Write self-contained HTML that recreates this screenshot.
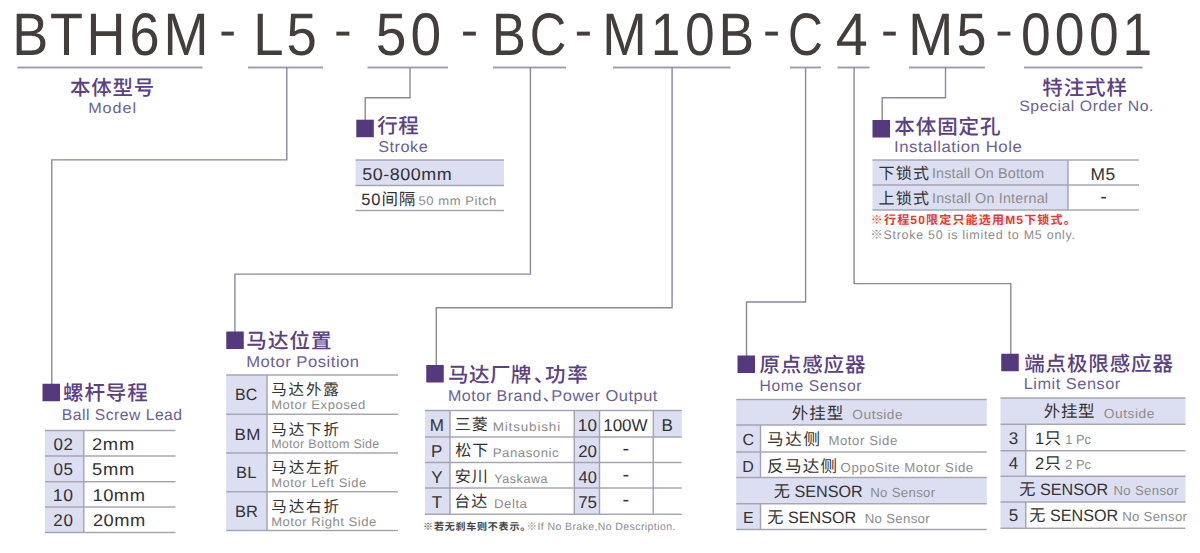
<!DOCTYPE html>
<html lang="zh-CN">
<head>
<meta charset="utf-8">
<title>BTH6M Model Code</title>
<style>
html,body{margin:0;padding:0;background:#fff;}
body{width:1200px;height:553px;overflow:hidden;}
svg{display:block;}
svg text{font-family:"Liberation Sans", "Noto Sans CJK SC", sans-serif;white-space:pre;}
</style>
</head>
<body>
<svg width="1200" height="553" viewBox="0 0 1200 553">
<rect width="1200" height="553" fill="#ffffff"/>
<g shape-rendering="geometricPrecision">
<rect x="17.5" y="66.55" width="185" height="1.9" fill="#9f9ab6"/>
<rect x="248" y="66.55" width="75" height="1.9" fill="#9f9ab6"/>
<rect x="367.5" y="66.55" width="80.5" height="1.9" fill="#9f9ab6"/>
<rect x="493" y="66.55" width="73" height="1.9" fill="#9f9ab6"/>
<rect x="613" y="66.55" width="117.5" height="1.9" fill="#9f9ab6"/>
<rect x="790" y="66.55" width="31" height="1.9" fill="#9f9ab6"/>
<rect x="837.5" y="66.55" width="32" height="1.9" fill="#9f9ab6"/>
<rect x="909" y="66.55" width="76" height="1.9" fill="#9f9ab6"/>
<rect x="1024" y="66.55" width="118.5" height="1.9" fill="#9f9ab6"/>
<path d="M286.8,67.5V159.9H51.8V384" fill="none" stroke="#8a879e" stroke-width="1.4"/>
<path d="M410,67.5V97.7H365.2V120" fill="none" stroke="#8a879e" stroke-width="1.4"/>
<path d="M530.4,67.5V274.1H234.9V332" fill="none" stroke="#8a879e" stroke-width="1.4"/>
<path d="M672.1,67.5V307.7H436.3V365" fill="none" stroke="#8a879e" stroke-width="1.4"/>
<path d="M805.6,67.5V302H746.5V356" fill="none" stroke="#8a879e" stroke-width="1.4"/>
<path d="M854.1,67.5V283.6H1010.8V354" fill="none" stroke="#8a879e" stroke-width="1.4"/>
<path d="M945.5,67.5V97.7H882.2V120" fill="none" stroke="#8a879e" stroke-width="1.4"/>
<rect x="356.3" y="119.7" width="17.5" height="17.5" fill="#54397c"/>
<rect x="872.5" y="120" width="17.5" height="17.5" fill="#54397c"/>
<rect x="42.5" y="383.75" width="17.5" height="17.5" fill="#54397c"/>
<rect x="226.25" y="331.5" width="17.5" height="17.5" fill="#54397c"/>
<rect x="426.25" y="365" width="17.5" height="17.5" fill="#54397c"/>
<rect x="737.5" y="355.5" width="17.5" height="17.5" fill="#54397c"/>
<rect x="1001.25" y="353.75" width="17.5" height="17.5" fill="#54397c"/>
<rect x="355.5" y="160" width="148.5" height="25.5" fill="#dcdef1"/>
<rect x="355.5" y="159.3" width="148.5" height="1.4" fill="#a2a2b1"/>
<rect x="355.5" y="184.8" width="148.5" height="1.4" fill="#a2a2b1"/>
<rect x="355.5" y="209.8" width="148.5" height="1.4" fill="#a2a2b1"/>
<rect x="872.5" y="160" width="195.5" height="50" fill="#dcdef1"/>
<rect x="872.5" y="159.3" width="266.5" height="1.4" fill="#a2a2b1"/>
<rect x="872.5" y="184.3" width="266.5" height="1.4" fill="#a2a2b1"/>
<rect x="872.5" y="209.3" width="266.5" height="1.4" fill="#a2a2b1"/>
<rect x="1067.3" y="160" width="1.4" height="50" fill="#a2a2b1"/>
<rect x="45" y="430.5" width="38.75" height="102" fill="#dcdef1"/>
<rect x="45" y="429.8" width="130.5" height="1.4" fill="#a2a2b1"/>
<rect x="45" y="455.3" width="130.5" height="1.4" fill="#a2a2b1"/>
<rect x="45" y="481.05" width="130.5" height="1.4" fill="#a2a2b1"/>
<rect x="45" y="506.3" width="130.5" height="1.4" fill="#a2a2b1"/>
<rect x="45" y="531.8" width="130.5" height="1.4" fill="#a2a2b1"/>
<rect x="83.05" y="430.5" width="1.4" height="102" fill="#a2a2b1"/>
<rect x="226.25" y="375" width="40.75" height="155.5" fill="#dcdef1"/>
<rect x="226.25" y="374.3" width="171.75" height="1.4" fill="#a2a2b1"/>
<rect x="226.25" y="413.55" width="171.75" height="1.4" fill="#a2a2b1"/>
<rect x="226.25" y="452.3" width="171.75" height="1.4" fill="#a2a2b1"/>
<rect x="226.25" y="491.05" width="171.75" height="1.4" fill="#a2a2b1"/>
<rect x="226.25" y="529.8" width="171.75" height="1.4" fill="#a2a2b1"/>
<rect x="266.3" y="375" width="1.4" height="155.5" fill="#a2a2b1"/>
<rect x="425" y="410.5" width="25" height="103.75" fill="#dcdef1"/>
<rect x="574.25" y="410.5" width="25.25" height="103.75" fill="#dcdef1"/>
<rect x="653.25" y="410.5" width="28.5" height="26.5" fill="#dcdef1"/>
<rect x="425" y="409.8" width="256.75" height="1.4" fill="#a2a2b1"/>
<rect x="425" y="436.3" width="256.75" height="1.4" fill="#a2a2b1"/>
<rect x="425" y="461.8" width="256.75" height="1.4" fill="#a2a2b1"/>
<rect x="425" y="487.3" width="256.75" height="1.4" fill="#a2a2b1"/>
<rect x="425" y="513.55" width="256.75" height="1.4" fill="#a2a2b1"/>
<rect x="449.3" y="410.5" width="1.4" height="103.75" fill="#a2a2b1"/>
<rect x="573.55" y="410.5" width="1.4" height="103.75" fill="#a2a2b1"/>
<rect x="598.8" y="410.5" width="1.4" height="103.75" fill="#a2a2b1"/>
<rect x="652.55" y="410.5" width="1.4" height="103.75" fill="#a2a2b1"/>
<rect x="736.25" y="399.5" width="250.5" height="25.5" fill="#dcdef1"/>
<rect x="736.25" y="477.5" width="250.5" height="26.25" fill="#dcdef1"/>
<rect x="736.25" y="425" width="24.25" height="52.5" fill="#dcdef1"/>
<rect x="736.25" y="503.75" width="24.25" height="25.75" fill="#dcdef1"/>
<rect x="736.25" y="398.8" width="250.5" height="1.4" fill="#a2a2b1"/>
<rect x="736.25" y="424.3" width="250.5" height="1.4" fill="#a2a2b1"/>
<rect x="736.25" y="451.3" width="250.5" height="1.4" fill="#a2a2b1"/>
<rect x="736.25" y="476.8" width="250.5" height="1.4" fill="#a2a2b1"/>
<rect x="736.25" y="503.05" width="250.5" height="1.4" fill="#a2a2b1"/>
<rect x="736.25" y="528.8" width="250.5" height="1.4" fill="#a2a2b1"/>
<rect x="759.8" y="425" width="1.4" height="52.5" fill="#a2a2b1"/>
<rect x="759.8" y="503.75" width="1.4" height="25.75" fill="#a2a2b1"/>
<rect x="1000.5" y="398" width="185" height="26.25" fill="#dcdef1"/>
<rect x="1000.5" y="476.25" width="185" height="25.75" fill="#dcdef1"/>
<rect x="1000.5" y="424.25" width="25.25" height="52" fill="#dcdef1"/>
<rect x="1000.5" y="502" width="25.25" height="26.25" fill="#dcdef1"/>
<rect x="1000.5" y="397.3" width="185" height="1.4" fill="#a2a2b1"/>
<rect x="1000.5" y="423.55" width="185" height="1.4" fill="#a2a2b1"/>
<rect x="1000.5" y="450.05" width="185" height="1.4" fill="#a2a2b1"/>
<rect x="1000.5" y="475.55" width="185" height="1.4" fill="#a2a2b1"/>
<rect x="1000.5" y="501.3" width="185" height="1.4" fill="#a2a2b1"/>
<rect x="1000.5" y="527.55" width="185" height="1.4" fill="#a2a2b1"/>
<rect x="1025.05" y="424.25" width="1.4" height="52" fill="#a2a2b1"/>
<rect x="1025.05" y="502" width="1.4" height="26.25" fill="#a2a2b1"/>
</g>
<g text-rendering="geometricPrecision">
<text font-size="60" fill="#423e3d" transform="scale(0.9,1)" x="13.72 55.58 96.10 144.00 181.73" y="54.7">BTH6M</text>
<text font-size="60" fill="#423e3d" transform="scale(0.91,1)" x="278.22 314.80" y="54.7">L5</text>
<text font-size="60" fill="#423e3d" transform="scale(0.92,1)" x="408.37 446.30" y="54.7">50</text>
<text font-size="60" fill="#423e3d" transform="scale(0.845,1)" x="582.19 627.07" y="54.7">BC</text>
<text font-size="60" fill="#423e3d" transform="scale(0.89,1)" x="676.58 731.09 769.61 807.31" y="54.7">M10B</text>
<text font-size="60" fill="#423e3d" transform="scale(0.805,1)" x="978.95" y="54.7">C</text>
<text font-size="60" fill="#423e3d" transform="scale(0.96,1)" x="870.49" y="54.7">4</text>
<text font-size="60" fill="#423e3d" transform="scale(0.9,1)" x="1009.07 1062.65" y="54.7">M5</text>
<text font-size="60" fill="#423e3d" transform="scale(0.89,1)" x="1147.30 1185.06 1223.60 1261.32" y="54.7">0001</text>
<text font-size="48" fill="#423e3d" transform="translate(227.75,47.3) scale(1.049,1.05)" text-anchor="middle">-</text>
<text font-size="48" fill="#423e3d" transform="translate(342.90,47.3) scale(1.109,1.05)" text-anchor="middle">-</text>
<text font-size="48" fill="#423e3d" transform="translate(469.50,47.3) scale(1.092,1.05)" text-anchor="middle">-</text>
<text font-size="48" fill="#423e3d" transform="translate(583.40,47.3) scale(1.109,1.05)" text-anchor="middle">-</text>
<text font-size="48" fill="#423e3d" transform="translate(771.50,47.3) scale(1.075,1.05)" text-anchor="middle">-</text>
<text font-size="48" fill="#423e3d" transform="translate(889.45,47.3) scale(1.067,1.05)" text-anchor="middle">-</text>
<text font-size="48" fill="#423e3d" transform="translate(1003.90,47.3) scale(1.092,1.05)" text-anchor="middle">-</text>
<text font-size="20.5" fill="#5a4183" font-weight="500" letter-spacing="0.71" x="70.06" y="95.29">本体型号</text>
<text font-size="15" fill="#6c5f95" letter-spacing="0.88" transform="translate(88.17,113.00) scale(1.080,1)">Model</text>
<text font-size="20.5" fill="#5a4183" font-weight="500" letter-spacing="0.87" x="1042.34" y="95.33">特注式样</text>
<text font-size="15" fill="#6c5f95" letter-spacing="0.50" transform="translate(1019.28,111.40) scale(1.055,1)">Special Order No.</text>
<text font-size="20.5" fill="#5a4183" font-weight="500" letter-spacing="0.43" x="377.27" y="133.43">行程</text>
<text font-size="15.7" fill="#6c5f95" letter-spacing="0.50" transform="translate(378.26,152.00) scale(1.034,1)">Stroke</text>
<text font-size="17" fill="#333333" letter-spacing="0.50" transform="translate(362.28,179.50) scale(1.055,1)">50-800mm</text>
<text font-size="16.5" fill="#333333" letter-spacing="0.87" x="361.34" y="204.50">50间隔</text>
<text font-size="12.5" fill="#8c8c8c" letter-spacing="0.50" transform="translate(418.48,204.50) scale(1.046,1)">50 mm Pitch</text>
<text font-size="20.5" fill="#5a4183" font-weight="500" letter-spacing="0.91" x="894.36" y="134.10">本体固定孔</text>
<text font-size="15.7" fill="#6c5f95" letter-spacing="0.50" transform="translate(893.95,152.00) scale(1.068,1)">Installation Hole</text>
<text font-size="16" fill="#333333" letter-spacing="1.30" x="878.52" y="178.71">下锁式</text>
<text font-size="14.3" fill="#8c8c8c" letter-spacing="0.16" x="931.98" y="177.70">Install On Bottom</text>
<text font-size="17" fill="#333333" letter-spacing="0.50" transform="translate(1090.57,179.50) scale(1.022,1)">M5</text>
<text font-size="16" fill="#333333" letter-spacing="1.27" x="878.58" y="203.71">上锁式</text>
<text font-size="14.3" fill="#8c8c8c" letter-spacing="0.22" x="931.98" y="202.70">Install On Internal</text>
<text font-size="20" fill="#333333" x="1100.17" y="202.50">-</text>
<text font-size="12" fill="#e8392f" font-weight="700" letter-spacing="1.18" x="870.82" y="223.86">※行程50限定只能选用M5下锁式。</text>
<text font-size="12.5" fill="#8c8c8c" letter-spacing="0.72" x="870.25" y="238.75">※Stroke 50 is limited to M5 only.</text>
<text font-size="20.5" fill="#5a4183" font-weight="500" letter-spacing="0.90" x="63.01" y="399.55">螺杆导程</text>
<text font-size="15.7" fill="#6c5f95" letter-spacing="0.50" x="61.71" y="419.50">Ball Screw Lead</text>
<text font-size="17" fill="#333333" letter-spacing="0.61" x="53.54" y="449.80">02</text>
<text font-size="17" fill="#333333" letter-spacing="0.71" transform="translate(91.88,449.80) scale(1.080,1)">2mm</text>
<text font-size="17" fill="#333333" letter-spacing="0.47" x="53.54" y="475.30">05</text>
<text font-size="17" fill="#333333" letter-spacing="0.62" transform="translate(92.06,475.30) scale(1.080,1)">5mm</text>
<text font-size="17" fill="#333333" letter-spacing="0.50" transform="translate(52.86,501.05) scale(1.032,1)">10</text>
<text font-size="17" fill="#333333" letter-spacing="0.50" transform="translate(92.40,501.05) scale(1.078,1)">10mm</text>
<text font-size="17" fill="#333333" letter-spacing="0.61" x="53.35" y="526.30">20</text>
<text font-size="17" fill="#333333" letter-spacing="0.50" transform="translate(92.88,526.30) scale(1.074,1)">20mm</text>
<text font-size="20.5" fill="#5a4183" font-weight="500" letter-spacing="1.06" x="246.37" y="348.15">马达位置</text>
<text font-size="15.7" fill="#6c5f95" letter-spacing="0.50" transform="translate(246.14,367.00) scale(1.058,1)">Motor Position</text>
<text font-size="16.5" fill="#333333" transform="translate(235.09,400.30) scale(0.965,1)">BC</text>
<text font-size="15.5" fill="#333333" letter-spacing="1.81" x="271.32" y="395.40">马达外露</text>
<text font-size="12.5" fill="#8c8c8c" letter-spacing="0.50" transform="translate(271.13,409.20) scale(1.046,1)">Motor Exposed</text>
<text font-size="16.5" fill="#333333" letter-spacing="0.50" transform="translate(234.51,439.55) scale(1.029,1)">BM</text>
<text font-size="15.5" fill="#333333" letter-spacing="1.87" x="271.32" y="434.65">马达下折</text>
<text font-size="12.5" fill="#8c8c8c" letter-spacing="0.29" x="271.17" y="448.45">Motor Bottom Side</text>
<text font-size="16.5" fill="#333333" letter-spacing="0.17" x="236.05" y="478.30">BL</text>
<text font-size="15.5" fill="#333333" letter-spacing="1.87" x="271.32" y="473.40">马达左折</text>
<text font-size="12.5" fill="#8c8c8c" letter-spacing="0.50" transform="translate(271.14,487.20) scale(1.035,1)">Motor Left Side</text>
<text font-size="16.5" fill="#333333" transform="translate(235.05,517.05) scale(0.995,1)">BR</text>
<text font-size="15.5" fill="#333333" letter-spacing="1.87" x="271.32" y="512.13">马达右折</text>
<text font-size="12.5" fill="#8c8c8c" letter-spacing="0.50" transform="translate(271.13,525.95) scale(1.046,1)">Motor Right Side</text>
<text font-size="20.5" fill="#5a4183" font-weight="500" letter-spacing="0.40" x="448.12" y="382.43">马达厂牌</text>
<text font-size="20.5" fill="#5a4183" font-weight="500" x="533.84" y="382.00">、</text>
<text font-size="20.5" fill="#5a4183" font-weight="500" letter-spacing="1.74" x="545.02" y="382.48">功率</text>
<text font-size="15.7" fill="#6c5f95" letter-spacing="0.50" transform="translate(447.93,400.50) scale(1.023,1)">Motor Brand</text>
<text font-size="15.7" fill="#6c5f95" x="542.68" y="400.50">、</text>
<text font-size="15.7" fill="#6c5f95" letter-spacing="0.50" transform="translate(551.25,400.50) scale(1.047,1)">Power Output</text>
<text font-size="17" fill="#333333" x="429.82" y="430.50">M</text>
<text font-size="16" fill="#333333" letter-spacing="1.00" x="454.76" y="429.90">三菱</text>
<text font-size="12.5" fill="#8c8c8c" letter-spacing="0.77" transform="translate(492.64,430.50) scale(1.080,1)">Mitsubishi</text>
<text font-size="17" fill="#333333" letter-spacing="0.25" x="577.71" y="430.50">10</text>
<text font-size="17" fill="#333333" letter-spacing="-0.02" x="603.21" y="430.50">100W</text>
<text font-size="17" fill="#333333" x="661.58" y="430.50">B</text>
<text font-size="17" fill="#333333" x="430.98" y="457.00">P</text>
<text font-size="16" fill="#333333" letter-spacing="1.00" x="455.29" y="456.39">松下</text>
<text font-size="12.5" fill="#8c8c8c" letter-spacing="0.50" transform="translate(492.67,457.00) scale(1.057,1)">Panasonic</text>
<text font-size="17" fill="#333333" transform="translate(578.15,457.00) scale(0.989,1)">20</text>
<text font-size="20" fill="#333333" x="622.47" y="455.30">-</text>
<text font-size="17" fill="#333333" x="431.23" y="482.50">Y</text>
<text font-size="16" fill="#333333" letter-spacing="1.00" x="454.70" y="481.83">安川</text>
<text font-size="12.5" fill="#8c8c8c" letter-spacing="0.58" x="494.23" y="482.50">Yaskawa</text>
<text font-size="17" fill="#333333" transform="translate(578.62,482.50) scale(0.963,1)">40</text>
<text font-size="20" fill="#333333" x="622.47" y="480.80">-</text>
<text font-size="17" fill="#333333" x="431.71" y="508.00">T</text>
<text font-size="16" fill="#333333" letter-spacing="1.00" x="454.18" y="507.42">台达</text>
<text font-size="12.5" fill="#8c8c8c" letter-spacing="0.50" transform="translate(493.91,508.00) scale(1.061,1)">Delta</text>
<text font-size="17" fill="#333333" transform="translate(578.13,508.00) scale(0.993,1)">75</text>
<text font-size="20" fill="#333333" x="622.47" y="506.30">-</text>
<text font-size="10" fill="#444444" font-weight="700" letter-spacing="0.79" x="423.10" y="529.84">※若无刹车则不表示。</text>
<text font-size="10.5" fill="#8c8c8c" letter-spacing="0.41" x="526.53" y="529.80">※If No Brake,No Description.</text>
<text font-size="20.5" fill="#5a4183" font-weight="500" letter-spacing="0.89" x="759.41" y="372.44">原点感应器</text>
<text font-size="15.7" fill="#6c5f95" letter-spacing="0.61" x="759.46" y="390.50">Home Sensor</text>
<text font-size="16.5" fill="#333333" letter-spacing="0.96" x="791.87" y="418.79">外挂型</text>
<text font-size="13.2" fill="#8c8c8c" letter-spacing="0.50" transform="translate(852.35,418.75) scale(1.037,1)">Outside</text>
<text font-size="16" fill="#333333" x="742.42" y="445.00">C</text>
<text font-size="16.5" fill="#333333" letter-spacing="1.73" x="767.06" y="444.56">马达侧</text>
<text font-size="13.2" fill="#8c8c8c" letter-spacing="0.57" x="828.42" y="445.00">Motor Side</text>
<text font-size="16" fill="#333333" x="742.25" y="471.50">D</text>
<text font-size="16.5" fill="#333333" letter-spacing="1.31" x="767.09" y="471.54">反马达侧</text>
<text font-size="13.2" fill="#8c8c8c" letter-spacing="0.56" x="840.62" y="471.50">OppoSite Motor Side</text>
<text font-size="16.5" fill="#333333" transform="translate(773.87,497.00) scale(0.979,1)">无 SENSOR</text>
<text font-size="13.2" fill="#8c8c8c" letter-spacing="0.34" x="870.17" y="497.00">No Sensor</text>
<text font-size="16" fill="#333333" x="743.05" y="523.00">E</text>
<text font-size="16.5" fill="#333333" transform="translate(767.37,523.00) scale(0.979,1)">无 SENSOR</text>
<text font-size="13.2" fill="#8c8c8c" letter-spacing="0.34" x="864.67" y="523.00">No Sensor</text>
<text font-size="20.5" fill="#5a4183" font-weight="500" letter-spacing="0.87" x="1024.24" y="370.69">端点极限感应器</text>
<text font-size="15.7" fill="#6c5f95" letter-spacing="0.50" transform="translate(1023.66,389.25) scale(1.042,1)">Limit Sensor</text>
<text font-size="16.5" fill="#333333" letter-spacing="0.58" x="1043.87" y="417.29">外挂型</text>
<text font-size="13.2" fill="#8c8c8c" letter-spacing="0.50" transform="translate(1103.85,417.50) scale(1.043,1)">Outside</text>
<text font-size="17" fill="#333333" x="1008.72" y="443.75">3</text>
<text font-size="16.5" fill="#333333" letter-spacing="0.25" x="1034.99" y="443.75">1只</text>
<text font-size="13.2" fill="#8c8c8c" transform="translate(1065.28,443.75) scale(0.969,1)">1 Pc</text>
<text font-size="17" fill="#333333" x="1008.73" y="469.25">4</text>
<text font-size="16.5" fill="#333333" letter-spacing="0.33" x="1034.92" y="469.25">2只</text>
<text font-size="13.2" fill="#8c8c8c" transform="translate(1065.36,469.25) scale(0.965,1)">2 Pc</text>
<text font-size="16.5" fill="#333333" transform="translate(1019.37,494.50) scale(0.979,1)">无 SENSOR</text>
<text font-size="13.2" fill="#8c8c8c" letter-spacing="0.34" x="1113.42" y="494.50">No Sensor</text>
<text font-size="17" fill="#333333" x="1008.69" y="520.50">5</text>
<text font-size="16.5" fill="#333333" transform="translate(1029.37,520.50) scale(0.979,1)">无 SENSOR</text>
<text font-size="13.2" fill="#8c8c8c" letter-spacing="0.31" x="1122.17" y="520.50">No Sensor</text>
</g>
</svg>
</body>
</html>
